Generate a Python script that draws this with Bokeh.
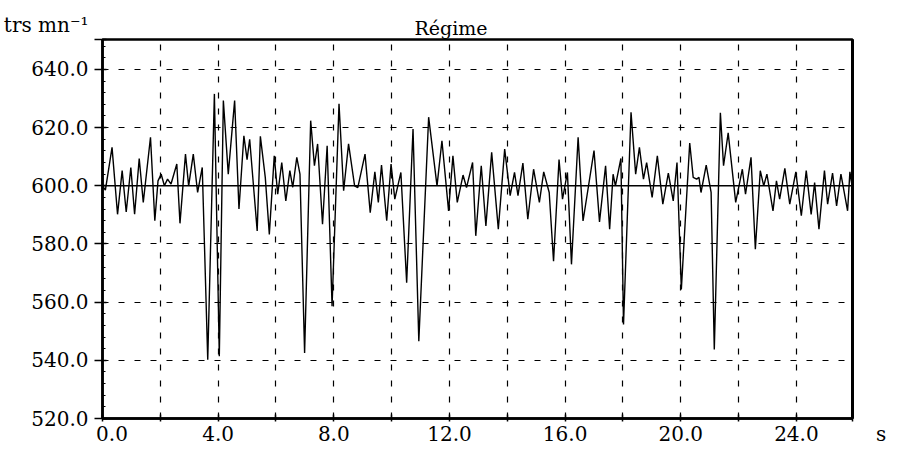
from bokeh.plotting import figure
from bokeh.models import Range1d, FixedTicker, Span, CustomJSTickFormatter, LinearAxis
from bokeh.embed import file_html
from bokeh.resources import INLINE

# time (s) and engine speed (trs/mn)
time_s = [0.00, 0.10, 0.33, 0.52, 0.68, 0.82, 0.98, 1.11, 1.27, 1.41, 1.66, 1.81, 1.92, 2.03, 2.14,
          2.25, 2.37, 2.57, 2.68, 2.87, 2.98, 3.14, 3.29, 3.45, 3.64, 3.87, 4.04, 4.18, 4.35, 4.57,
          4.72, 4.89, 5.00, 5.09, 5.35, 5.46, 5.63, 5.77, 5.94, 6.06, 6.20, 6.34, 6.48, 6.58, 6.72,
          6.83, 6.99, 7.20, 7.33, 7.44, 7.61, 7.77, 7.94, 8.18, 8.34, 8.51, 8.72, 8.83, 9.08, 9.26,
          9.42, 9.54, 9.65, 9.83, 9.98, 10.11, 10.32, 10.52, 10.74, 10.94, 11.28, 11.57, 11.74, 11.97,
          12.12, 12.27, 12.47, 12.59, 12.80, 12.91, 13.10, 13.26, 13.46, 13.69, 13.91, 14.10, 14.25,
          14.37, 14.54, 14.71, 14.91, 15.11, 15.26, 15.45, 15.60, 15.79, 15.91, 16.08, 16.22, 16.45,
          16.62, 17.00, 17.19, 17.40, 17.54, 17.66, 17.74, 17.93, 18.02, 18.28, 18.44, 18.57, 18.71,
          18.82, 19.01, 19.19, 19.38, 19.57, 19.74, 19.87, 20.02, 20.31, 20.43, 20.55, 20.63, 20.70,
          20.88, 21.05, 21.16, 21.37, 21.48, 21.64, 21.90, 22.13, 22.24, 22.43, 22.58, 22.75, 22.87,
          22.98, 23.19, 23.31, 23.42, 23.60, 23.77, 23.98, 24.17, 24.34, 24.51, 24.63, 24.78, 24.97,
          25.08, 25.25, 25.39, 25.54, 25.77, 25.85, 25.94]
regime = [600.0, 598.5, 613.2, 590.2, 605.2, 591.0, 606.3, 590.2, 609.4, 594.3, 616.7, 588.0, 601.7, 604.0, 600.0,
          602.3, 600.6, 607.5, 587.1, 610.9, 600.0, 610.9, 597.7, 606.3, 540.2, 631.6, 541.4, 629.3, 604.0, 629.3,
          592.0, 617.2, 609.0, 616.0, 584.5, 617.0, 602.9, 583.3, 610.3, 597.1, 608.0, 594.8, 605.2, 599.5, 609.8,
          604.0, 542.5, 622.4, 606.9, 614.4, 586.8, 613.8, 558.6, 628.2, 598.3, 614.4, 600.0, 599.4, 610.9, 590.8,
          604.8, 594.3, 607.1, 588.0, 607.5, 595.4, 604.6, 566.7, 619.5, 546.6, 623.6, 600.0, 615.5, 591.4,
          610.3, 594.3, 603.7, 599.4, 608.0, 582.8, 606.9, 586.2, 611.5, 585.1, 612.6, 596.6, 604.6,
          596.6, 607.8, 588.5, 605.7, 594.3, 604.8, 597.7, 574.1, 609.0, 595.4, 604.6, 573.0, 616.7,
          587.9, 612.1, 587.6, 606.9, 585.1, 604.0, 600.0, 609.4, 552.3, 625.3, 604.0, 613.2, 602.3,
          608.0, 596.0, 610.3, 593.7, 604.4, 594.8, 608.0, 564.4, 614.7, 602.9, 602.3, 602.9, 597.7,
          607.1, 597.7, 543.7, 625.1, 606.9, 618.2, 594.3, 605.7, 597.1, 609.8, 578.2, 605.2, 600.0,
          604.0, 591.4, 601.7, 595.4, 606.0, 593.7, 604.8, 589.7, 605.2, 590.2, 601.1, 585.1, 605.2,
          593.7, 604.4, 593.1, 604.0, 591.4, 604.8, 598.9]

x_ticks = [0, 2, 4, 6, 8, 10, 12, 14, 16, 18, 20, 22, 24]
y_ticks = [520, 540, 560, 580, 600, 620, 640]
y_minor = [v for v in range(520, 652, 4) if v % 20 != 0]
reference_level = 600
X_MAX = 25.94
Y_MIN, Y_MAX = 520, 650.3
title_text = "Régime"
y_unit = "trs mn⁻¹"
x_unit = "s"

FONT = "DejaVu Serif"

p = figure(width=889, height=449, x_range=Range1d(0, X_MAX), y_range=Range1d(Y_MIN, Y_MAX),
           output_backend="svg", toolbar_location=None,
           min_border_left=92, min_border_right=37, min_border_top=39, min_border_bottom=31,
           background_fill_color="white", border_fill_color="white")

p.title.text = title_text
p.title.align = "left"
p.title.offset = 312
p.title.standoff = 2
p.title.text_font = FONT
p.title.text_font_size = "19px"
p.title.text_font_style = "normal"
p.title.text_color = "black"

p.line(time_s, regime, line_color="black", line_width=1.4)
p.add_layout(Span(location=reference_level, dimension="width", line_color="black", line_width=1.4))

# axes
xa = p.xaxis[0]
xa.ticker = FixedTicker(ticks=x_ticks + [X_MAX])
xa.formatter = CustomJSTickFormatter(
    args=dict(unit=x_unit, xmax=X_MAX),
    code="""
    const sp = '\\u00a0';
    if (tick >= xmax - 0.01) { return sp.repeat(9) + unit; }
    if (Math.abs(tick) < 1e-9) { return sp.repeat(3) + tick.toFixed(1); }
    return (Math.round(tick) % 4 == 0) ? tick.toFixed(1) : '';
    """)
xa.major_tick_in = 4
xa.major_tick_out = 3
xa.minor_tick_line_color = None
xa.major_label_standoff = 0
ya = p.yaxis[0]
ya.ticker = FixedTicker(ticks=y_ticks + [Y_MAX], minor_ticks=y_minor)
ya.formatter = CustomJSTickFormatter(args=dict(unit=y_unit, top=Y_MAX),
                                     code="if (tick >= top - 0.01) { return unit + '\\n\\u00a0'; } return tick.toFixed(1);")
ya.major_tick_in = 4
ya.major_tick_out = 8
ya.minor_tick_in = 3
ya.minor_tick_out = 0
ya.major_label_standoff = 6
for ax in (xa, ya):
    ax.axis_line_width = 2.5
    ax.axis_line_color = "black"
    ax.major_tick_line_color = "black"
    ax.major_tick_line_width = 1.5
    ax.major_label_text_font = FONT
    ax.major_label_text_font_size = "20px"
    ax.major_label_text_color = "black"
ya.minor_tick_line_color = "black"

# right axis: only the thick right border of the box
ra = LinearAxis(ticker=FixedTicker(ticks=[]))
ra.axis_line_width = 3
ra.axis_line_color = "black"
ra.major_tick_line_color = None
ra.minor_tick_line_color = None
ra.major_label_text_font_size = "0px"
p.add_layout(ra, "right")

p.xgrid.grid_line_color = "black"
p.xgrid.grid_line_dash = "6 10"
p.xgrid.grid_line_width = 1.2
p.xgrid.ticker = FixedTicker(ticks=x_ticks)
p.ygrid.grid_line_color = "black"
p.ygrid.grid_line_dash = "6 10"
p.ygrid.grid_line_width = 1.2
p.ygrid.ticker = FixedTicker(ticks=y_ticks)

p.outline_line_color = "black"
p.outline_line_width = 2.5

open("out.html", "w").write(file_html(p, INLINE))
